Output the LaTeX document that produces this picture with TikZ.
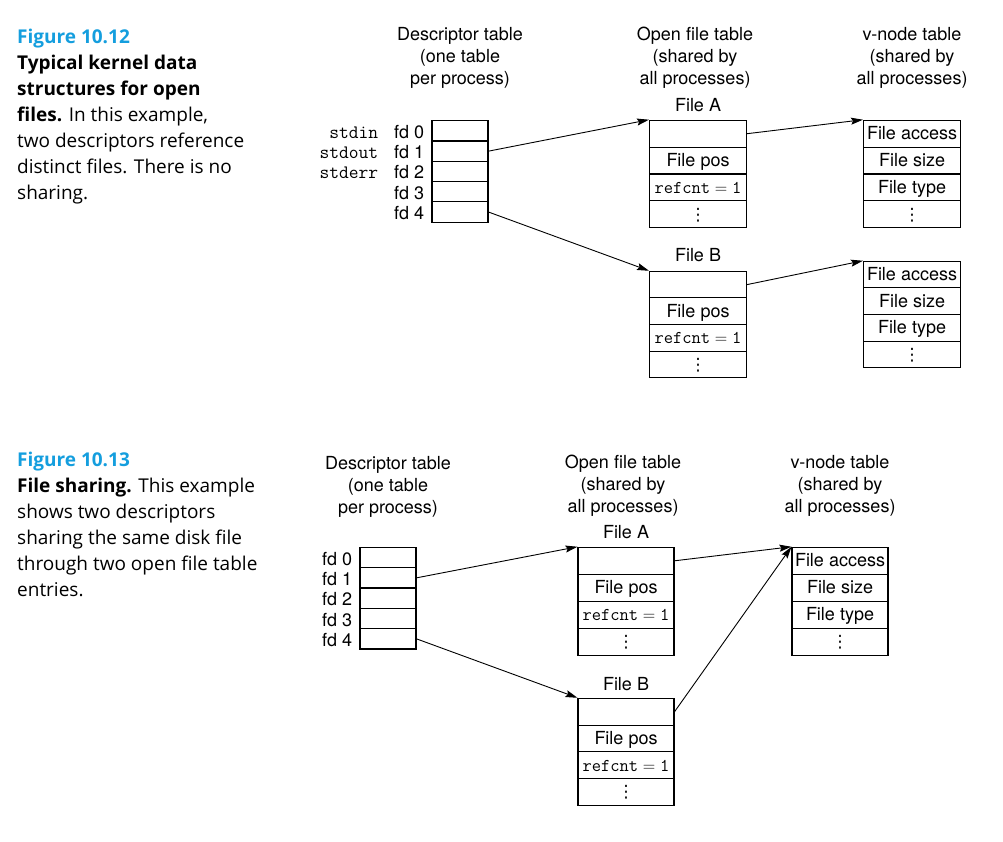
\documentclass[tikz,border=0pt]{standalone}
\usepackage{fontspec}
\setmainfont{TeX Gyre Heros}
\newfontfamily\capfont{Open Sans}
\newfontfamily\dotfont{DejaVu Sans}
\usetikzlibrary{arrows.meta}
\definecolor{figblue}{RGB}{20,158,222}
\newcommand{\vdotz}{{\dotfont\fontsize{17}{22}\selectfont ⋮}}
\newcommand{\refone}{\texttt{refcnt}${}={}$\texttt{1}}

\begin{document}
\begin{tikzpicture}
[x=1pt,y=-1pt,%
  every node/.style={inner sep=0pt,font=\fontsize{18}{22}\selectfont},%
  head/.style={anchor=north,align=center},%
  capline/.style={anchor=base west,font=\capfont\fontsize{19}{26}\selectfont},%
  fdcell/.style={draw,line width=1.1pt,minimum width=56pt,minimum height=20.3pt},%
  filecell/.style={draw,line width=1.1pt,minimum width=97pt,minimum height=26.85pt,%
    text height=12pt,text depth=0pt},%
  ptr/.style={-{Stealth[length=12pt,width=7pt,inset=2pt]},line width=0.9pt}]
\useasboundingbox (0,0) rectangle (1003,842);
\foreach \txt [count=\n from 0] in {{\textbf{\textcolor{figblue}{Figure 10.12}}},
  {\textbf{Typical kernel data}},{\textbf{structures for open}},
  {\textbf{files.} In this example,},{two descriptors reference},
  {distinct files. There is no},{sharing.}}
  \node[capline] (capa\n) at (17,44+26*\n) {\txt};
\foreach \txt [count=\n from 0] in {{\textbf{\textcolor{figblue}{Figure 10.13}}},
  {\textbf{File sharing.} This example},{shows two descriptors},
  {sharing the same disk file},{through two open file table},{entries.}}
  \node[capline] (capb\n) at (17,466+26*\n) {\txt};
\node[head] (hda) at (460,27) {Descriptor table\\(one table\\per process)};
\node[head] (hoa) at (695,27) {Open file table\\(shared by\\all processes)};
\node[head] (hva) at (912,27) {v-node table\\(shared by\\all processes)};
\node[head] (hdb) at (388,456) {Descriptor table\\(one table\\per process)};
\node[head] (hob) at (623,455) {Open file table\\(shared by\\all processes)};
\node[head] (hvb) at (840,455) {v-node table\\(shared by\\all processes)};
\foreach \i in {0,...,4} {
  \node[fdcell] (da\i) at (460,130.85+20.3*\i) {};
  \node[anchor=base east] (fda\i) at ([xshift=-7pt,yshift=-7.5pt]da\i.west) {fd \i};
  \node[fdcell] (db\i) at (388,557.5+20.34*\i) {};
  \node[anchor=base east] (fdb\i) at ([xshift=-7pt,yshift=-7.5pt]db\i.west) {fd \i};
}
\foreach \s [count=\i from 0] in {stdin,stdout,stderr}
  \node[anchor=base east,font=\ttfamily\fontsize{19}{22}\selectfont] (std\i)
    at ([xshift=-53pt,yshift=-7.5pt]da\i.west) {\s};
\foreach \t [count=\k from 0] in {{},File pos,\refone,\vdotz} {
  \node[filecell] (oa\k) at (698,133.7+26.85*\k) {\t};
  \node[filecell,minimum height=26.6pt] (ob\k) at (698,284.6+26.6*\k) {\t};
  \node[filecell,minimum width=96pt,minimum height=27pt] (oc\k) at (626,560.8+27*\k) {\t};
  \node[filecell,minimum width=96pt,minimum height=26.75pt] (od\k) at (626,711.7+26.75*\k) {\t};
}
\foreach \t [count=\k from 0] in {File access,File size,File type,\vdotz} {
  \node[filecell] (va\k) at (912,133.7+26.85*\k) {\t};
  \node[filecell,minimum height=26.6pt] (vb\k) at (912,274.6+26.6*\k) {\t};
  \node[filecell,minimum width=96pt,minimum height=27pt] (vc\k) at (840,560.8+27*\k) {\t};
}
\node[anchor=base] (fila) at (698,111.7) {File A};
\node[anchor=base] (filb) at (698,261.7) {File B};
\node[anchor=base] (filc) at (626,538.3) {File A};
\node[anchor=base] (fild) at (626,690) {File B};
\draw[ptr] (da1.east) -- (oa0.north west);
\draw[ptr] (da4.east) -- (ob0.north west);
\draw[ptr] (oa0.east) -- (va0.north west);
\draw[ptr] (ob0.east) -- (vb0.north west);
\draw[ptr] (db1.east) -- (oc0.north west);
\draw[ptr] (db4.east) -- (od0.north west);
\draw[ptr] (oc0.east) -- (vc0.north west);
\draw[ptr] (od0.east) -- (vc0.north west);
\end{tikzpicture}
\end{document}
